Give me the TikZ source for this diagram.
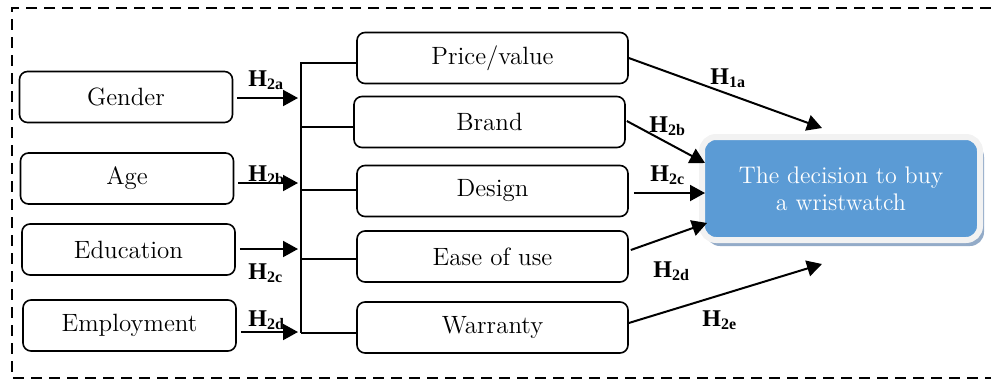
\documentclass[tikz,border=0pt]{standalone}
\usepackage{fontspec}
\newfontfamily\timesbf{Liberation Serif}
\usetikzlibrary{arrows.meta,shadows}

\definecolor{wristblue}{HTML}{5B9BD5}
\definecolor{glowgray}{HTML}{F2F2F2}
\definecolor{shadowblue}{HTML}{93ABC8}

\tikzset{
  factor/.style={draw, rounded corners=4pt, line width=0.8pt,
    minimum width=106.5pt, minimum height=25.5pt, inner sep=0pt,
    font=\fontsize{12.5}{14}\selectfont},
  wide/.style={minimum width=135.5pt},
  target/.style={draw=glowgray, fill=wristblue, line width=3pt,
    rounded corners=7pt, minimum width=139pt, minimum height=51.5pt,
    align=center, text=white, font=\fontsize{12}{13.5}\selectfont,
    drop shadow={shadow xshift=2pt, shadow yshift=-3pt,
      fill=shadowblue, opacity=1}},
  hlabel/.style={anchor=base west, inner sep=0pt,
    font=\timesbf\bfseries\fontsize{12}{14}\selectfont},
  link/.style={line width=1pt, -{Triangle[length=7.5pt,width=8pt]}},
  bus/.style={line width=1pt},
  frame/.style={line width=1pt, dash pattern=on 5.5pt off 3.5pt}
}

\newcommand{\factor}[5]{
  \node[factor, #4] (#1) at (#2,#3) {#5};
}
\newcommand{\hlab}[3]{
  \node[hlabel] at (#1,#2) {H\textsubscript{#3}};
}

\begin{document}
\begin{tikzpicture}[x=0.5pt, y=-0.5pt]

  \useasboundingbox (0,0) rectangle (991,381);

  % FRAME
  % =====
  \draw[frame] (991,8) -- (12,8) -- (12,378) -- (991,378);

  % Demographics
  % ------------
  \factor{gender}{126}{97}{}{Gender};
  \factor{age}{127}{178.5}{}{Age};
  \factor{education}{128.5}{249.5}{}{Education};
  \factor{employment}{129.5}{325.5}{}{Employment};

  % Attributes
  % ----------
  \factor{price}{492.5}{58}{wide}{Price/value};
  \factor{brand}{489.5}{122}{wide}{Brand};
  \factor{design}{492.5}{191}{wide}{Design};
  \factor{ease}{492.5}{256.5}{wide}{Ease of use};
  \factor{warranty}{492.5}{327.5}{wide}{Warranty};

  % Decision
  % --------
  \node[target] (decision) at (841,188.5) {The decision to buy\\a wristwatch};

  % BUS
  % ===
  \coordinate (busin) at (298,0);
  \coordinate (bustop) at (301,62);
  \coordinate (busbot) at (301,333);
  \draw[bus] (bustop) -- (busbot);

  \foreach \f/\dy in {gender/-0.5, age/-2.25, education/0.25, employment/-3.25}
  \draw[link] ([xshift=2pt,yshift=\dy pt]\f.east) -- ([yshift=\dy pt]\f.east -| busin);

  \foreach \f/\dy in {price/-2.5, brand/-2.5, design/0.5, ease/-1.25, warranty/-2.75}
  \draw[bus] ([yshift=\dy pt]\f.west) -- ([yshift=\dy pt]\f.west -| bustop);

  % LINKS
  % =====
  \coordinate (in1a) at (822,128);
  \coordinate (in2b) at (705,163);
  \coordinate (in2c) at (705,193);
  \coordinate (in2d) at (707,223);
  \coordinate (in2e) at (822,264);

  \draw[link] (price.east) -- (in1a);
  \draw[link] ([xshift=0.5pt,yshift=0.5pt]brand.east) -- (in2b);
  \draw[link] ([xshift=2.5pt,yshift=-1pt]design.east) -- (in2c);
  \draw[link] ([xshift=1pt,yshift=3.25pt]ease.east) -- (in2d);
  \draw[link] ([yshift=2.25pt]warranty.east) -- (in2e);

  % Labels
  % ------
  \hlab{248}{86}{2a};
  \hlab{248}{181}{2b};
  \hlab{248}{279}{2c};
  \hlab{248}{326}{2d};
  \hlab{710}{84}{1a};
  \hlab{649}{132}{2b};
  \hlab{650}{181}{2c};
  \hlab{653}{277}{2d};
  \hlab{702}{326}{2e};

\end{tikzpicture}
\end{document}
